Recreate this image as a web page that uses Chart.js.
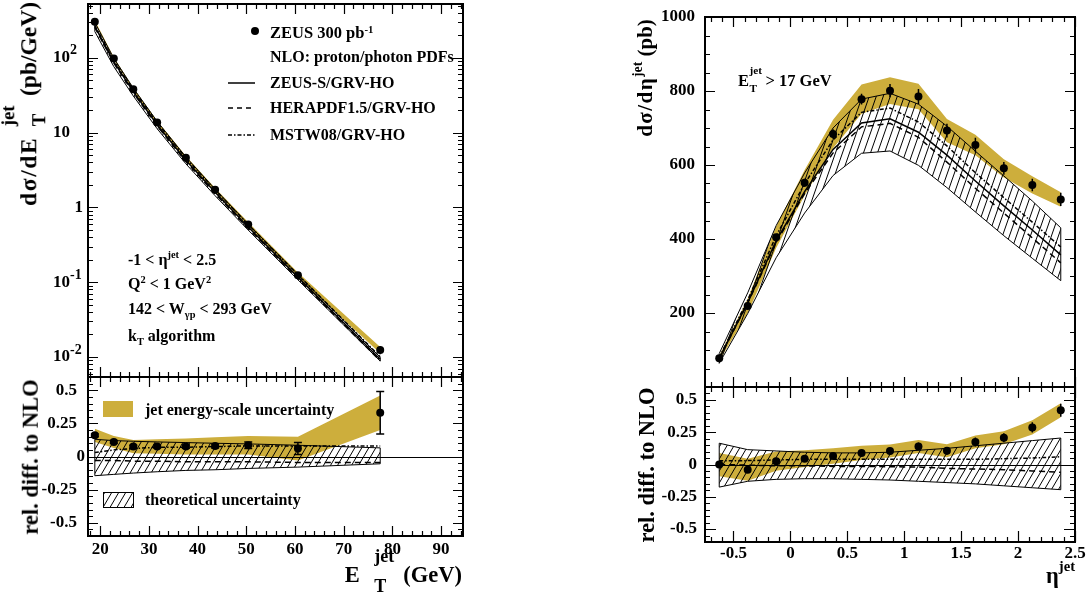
<!DOCTYPE html>
<html lang="en">
<head>
<meta charset="UTF-8">
<title>ZEUS inclusive jet cross sections</title>
<script src="https://cdn.jsdelivr.net/npm/chart.js"></script>
<style>
  body { margin: 0; background: #fff; }
  #page { position: relative; width: 1088px; height: 594px; overflow: hidden;
          font-family: "Liberation Serif", "Times New Roman", serif; font-weight: bold; color: #000; }
  canvas { position: absolute; left: 0; top: 0; }
  .txt { position: absolute; white-space: nowrap; line-height: 1; transform: translateY(-50%); }
  .rot { transform: translate(-50%, -50%) rotate(-90deg); }
  .ss { display: inline-block; position: relative; width: 1.2em; height: 1em; font-size: 0.68em; }
  .ss .up, .ss .dn { position: absolute; left: 0.05em; line-height: 1; }
  .ss .up { bottom: 1.17em; }
  .ss .dn { top: 0.83em; }
  .big { font-size: 0.8em; width: 1.35em; margin-left: 0.75em; }
  .big .up { bottom: 0.95em; }
  .big .dn { top: 0.7em; }
  .wide { letter-spacing: 0.07em; }
  .sp { font-size: 0.65em; position: relative; top: -0.6em; }
  .sb { font-size: 0.65em; position: relative; top: 0.35em; }
</style>
</head>
<body>
<div id="page">
  <canvas id="etTop" width="1088" height="594"></canvas>
  <canvas id="etRat" width="1088" height="594"></canvas>
  <canvas id="etaTop" width="1088" height="594"></canvas>
  <canvas id="etaRat" width="1088" height="594"></canvas>

  <!-- axis titles -->
  <div class="txt rot" style="left:29px;top:104px;font-size:23.5px"><span class="wide">dσ/dE</span><span class="ss big" style="margin-left:0.5em"><span class="up">jet</span><span class="dn">T</span></span> (pb/GeV)</div>
  <div class="txt rot" style="left:31px;top:457px;font-size:22.5px">rel. diff. to NLO</div>
  <div class="txt" style="right:626px;top:575px;font-size:22.5px">E<span class="ss big"><span class="up">jet</span><span class="dn">T</span></span>&nbsp;(GeV)</div>
  <div class="txt rot" style="left:645px;top:78px;font-size:21px"><span class="wide">dσ/dη</span><span class="sp" style="top:-0.75em">jet</span> (pb)</div>
  <div class="txt rot" style="left:647px;top:465px;font-size:22.5px">rel. diff. to NLO</div>
  <div class="txt" style="right:13px;top:576px;font-size:22.5px">η<span class="sp" style="top:-0.8em">jet</span></div>

  <!-- legend, left top -->
  <div class="txt" style="left:270px;top:33px;font-size:16.5px">ZEUS 300 pb<span class="sp" style="top:-0.5em">-1</span></div>
  <div class="txt" style="left:270px;top:57px;font-size:16px">NLO: proton/photon PDFs</div>
  <div class="txt" style="left:270px;top:83px;font-size:16px">ZEUS-S/GRV-HO</div>
  <div class="txt" style="left:270px;top:108px;font-size:16px">HERAPDF1.5/GRV-HO</div>
  <div class="txt" style="left:270px;top:135px;font-size:16px">MSTW08/GRV-HO</div>

  <!-- cuts -->
  <div class="txt" style="left:128px;top:260px;font-size:16px">-1 &lt; η<span class="sp" style="top:-0.7em">jet</span> &lt; 2.5</div>
  <div class="txt" style="left:128px;top:284px;font-size:16px">Q<span class="sp">2</span> &lt; 1 GeV<span class="sp">2</span></div>
  <div class="txt" style="left:128px;top:309px;font-size:16px">142 &lt; W<span class="sb">γp</span> &lt; 293 GeV</div>
  <div class="txt" style="left:128px;top:336px;font-size:16px">k<span class="sb">T</span> algorithm</div>
  <div class="txt" style="left:738px;top:81px;font-size:16.5px">E<span class="ss" style="width:1.1em"><span class="up" style="bottom:0.9em">jet</span><span class="dn" style="top:0.7em">T</span></span> &gt; 17 GeV</div>

  <!-- legend, left ratio -->
  <div class="txt" style="left:145px;top:410px;font-size:16px">jet energy-scale uncertainty</div>
  <div class="txt" style="left:145px;top:500px;font-size:16px">theoretical uncertainty</div>
</div>

<script>
    // ---- E_T^jet distribution (left) ----
    const etBins   = [18.9, 22.8, 26.8, 31.7, 37.6, 43.6, 50.4, 60.6, 77.5];
    const etXsec   = [305, 98, 38, 13.7, 4.6, 1.72, 0.593, 0.124, 0.0124];     // pb/GeV
    const etRatio  = [0.16, 0.11, 0.075, 0.075, 0.075, 0.08, 0.085, 0.06, 0.33]; // (data-NLO)/NLO
    const etStat   = [0.01, 0.01, 0.01, 0.01, 0.012, 0.015, 0.025, 0.045, 0.16];
    const etJes    = [0.05, 0.045, 0.05, 0.055, 0.06, 0.065, 0.07, 0.09, 0.13];
    const etTheoUp = [0.13, 0.12, 0.115, 0.11, 0.105, 0.10, 0.095, 0.085, 0.065];
    const etTheoDn = [-0.145, -0.135, -0.125, -0.115, -0.105, -0.10, -0.09, -0.08, -0.055];
    const etHera   = [-0.03, -0.03, -0.035, -0.035, -0.04, -0.04, -0.04, -0.045, -0.045];
    const etMstw   = [0.03, 0.05, 0.06, 0.07, 0.07, 0.075, 0.08, 0.08, 0.08];

    // ---- eta^jet distribution (right) ----
    const etaBins   = [-0.625, -0.375, -0.125, 0.125, 0.375, 0.625, 0.875, 1.125, 1.375, 1.625, 1.875, 2.125, 2.375];
    const etaXsec   = [77.5, 219, 405, 552, 684, 778, 801, 785, 693, 654, 591, 546, 507];  // pb
    const etaRatio  = [0, -0.04, 0.026, 0.045, 0.065, 0.09, 0.105, 0.14, 0.106, 0.175, 0.207, 0.287, 0.42];
    const etaStat   = [0.02, 0.02, 0.02, 0.02, 0.02, 0.02, 0.025, 0.03, 0.03, 0.035, 0.035, 0.04, 0.05];
    const etaJes    = [0.09, 0.085, 0.075, 0.065, 0.06, 0.055, 0.05, 0.05, 0.05, 0.05, 0.05, 0.055, 0.055];
    const etaTheoUp = [0.165, 0.115, 0.105, 0.095, 0.09, 0.09, 0.095, 0.11, 0.125, 0.145, 0.165, 0.185, 0.205];
    const etaTheoDn = [-0.175, -0.13, -0.115, -0.11, -0.11, -0.115, -0.12, -0.13, -0.14, -0.15, -0.165, -0.18, -0.195];
    const etaHera   = [0, -0.005, -0.01, -0.01, -0.015, -0.015, -0.017, -0.02, -0.03, -0.035, -0.04, -0.05, -0.06];
    const etaMstw   = [0.03, 0.03, 0.035, 0.04, 0.04, 0.04, 0.04, 0.04, 0.04, 0.04, 0.045, 0.05, 0.06];

    // ---- tick labels ----
    const etTickVals    = [20, 30, 40, 50, 60, 70, 80, 90];
    const etTickText    = ['20', '30', '40', '50', '60', '70', '80', '90'];
    const etaTickVals   = [-0.5, 0, 0.5, 1, 1.5, 2, 2.5];
    const etaTickText   = ['-0.5', '0', '0.5', '1', '1.5', '2', '2.5'];
    const ratioTickVals = [-0.5, -0.25, 0, 0.25, 0.5];
    const ratioTickText = ['-0.5', '-0.25', '0', '0.25', '0.5'];
    const xsecTickVals  = [200, 400, 600, 800, 1000];
    const xsecTickText  = ['200', '400', '600', '800', '1000'];
    const logTickVals   = [0.01, 0.1, 1, 10, 100];
    const logTickBase   = ['10', '10', '1', '10', '10'];
    const logTickExp    = ['-2', '-1', '', '', '2'];

    const YELLOW = '#cdae3c';
    const W = 1088, H = 594;
    const FONT = '"Liberation Serif", "Times New Roman", serif';

    function pad(b) { return { left: b[0], top: b[1], right: W - b[2], bottom: H - b[3] }; }

    function hatch(w, h) {
        const c = document.createElement('canvas');
        c.width = w; c.height = h;
        const g = c.getContext('2d');
        g.strokeStyle = '#000';
        g.lineWidth = 1;
        g.beginPath();
        [-w, 0, w].forEach(dx => { g.moveTo(dx, h); g.lineTo(dx + w, 0); });
        g.stroke();
        return g.createPattern(c, 'repeat');
    }

    function linTicks(min, max, step, majorStep) {
        const out = [];
        for (let n = Math.ceil(min / step - 1e-9); n <= Math.floor(max / step + 1e-9); n++) {
            const v = +(n * step).toFixed(6);
            const r = v / majorStep;
            out.push({ v, major: Math.abs(r - Math.round(r)) < 1e-6 });
        }
        return out;
    }

    function logTicks(min, max) {
        const out = [];
        for (let e = Math.floor(Math.log10(min)); e <= Math.ceil(Math.log10(max)); e++) {
            for (let m = 1; m <= 9; m++) {
                const v = m * Math.pow(10, e);
                if (v >= min && v <= max) out.push({ v, major: m === 1 });
            }
        }
        return out;
    }

    const pts = (xs, ys) => xs.map((x, i) => ({ x, y: ys[i] }));

    // two datasets: upper one filled down to the lower one
    function band(xs, hi, lo, fill, border, order) {
        const bw = border ? 1 : 0;
        return [
            { data: pts(xs, hi), fill: '+1', backgroundColor: fill, borderColor: '#000', borderWidth: bw,
              pointRadius: 0, order: order, closeWith: border ? 1 : undefined },
            { data: pts(xs, lo), fill: false, borderColor: '#000', borderWidth: bw, pointRadius: 0, order: order - 1 }
        ];
    }

    function curve(xs, ys, dash, order) {
        return { data: pts(xs, ys), fill: false, borderColor: '#000', borderWidth: 1.5, borderDash: dash,
                 pointRadius: 0, order: order };
    }

    function points(xs, ys, err, caps) {
        return { data: pts(xs, ys), showLine: false, pointRadius: 4, pointBackgroundColor: '#000',
                 pointBorderWidth: 0, yErr: err, caps: caps, order: 0 };
    }

    // frame, ticks on all four sides, labels, error bars and legend keys
    const framePlugin = {
        id: 'frame',
        afterDatasetsDraw(chart, args, o) {
            const ctx = chart.ctx, a = chart.chartArea, xs = chart.scales.x, ys = chart.scales.y;
            ctx.save();
            chart.data.datasets.forEach((ds, i) => {
                const meta = chart.getDatasetMeta(i);
                if (ds.closeWith !== undefined) {
                    const lo = chart.getDatasetMeta(i + ds.closeWith);
                    ctx.strokeStyle = '#000'; ctx.lineWidth = 1;
                    ctx.beginPath();
                    [0, meta.data.length - 1].forEach(j => {
                        ctx.moveTo(meta.data[j].x, meta.data[j].y);
                        ctx.lineTo(lo.data[j].x, lo.data[j].y);
                    });
                    ctx.stroke();
                }
                if (ds.yErr) {
                    ctx.strokeStyle = '#000'; ctx.lineWidth = 1.5;
                    ctx.beginPath();
                    ds.data.forEach((p, j) => {
                        const px = meta.data[j].x;
                        const y1 = ys.getPixelForValue(p.y - ds.yErr[j]);
                        const y2 = ys.getPixelForValue(p.y + ds.yErr[j]);
                        ctx.moveTo(px, y1); ctx.lineTo(px, y2);
                        if (ds.caps) {
                            ctx.moveTo(px - 4, y1); ctx.lineTo(px + 4, y1);
                            ctx.moveTo(px - 4, y2); ctx.lineTo(px + 4, y2);
                        }
                    });
                    ctx.stroke();
                }
            });

            if (o.zeroLine) {
                const y0 = Math.round(ys.getPixelForValue(0)) + 0.5;
                ctx.strokeStyle = '#000'; ctx.lineWidth = 1.2;
                ctx.beginPath(); ctx.moveTo(a.left, y0); ctx.lineTo(a.right, y0); ctx.stroke();
            }

            (o.swatches || []).forEach(s => {
                ctx.fillStyle = s.fill;
                ctx.fillRect(s.x, s.y, s.w, s.h);
                if (s.stroke) {
                    ctx.strokeStyle = '#000'; ctx.lineWidth = 1;
                    ctx.strokeRect(s.x + 0.5, s.y + 0.5, s.w, s.h);
                }
            });
            (o.keys || []).forEach(k => {
                ctx.fillStyle = '#000'; ctx.strokeStyle = '#000';
                if (k.point) {
                    ctx.beginPath(); ctx.arc(k.x, k.y, 4, 0, Math.PI * 2); ctx.fill();
                } else {
                    ctx.lineWidth = 1.5;
                    ctx.setLineDash(k.dash);
                    ctx.beginPath(); ctx.moveTo(k.x, k.y); ctx.lineTo(k.x + k.len, k.y); ctx.stroke();
                    ctx.setLineDash([]);
                }
            });

            // ticks
            ctx.strokeStyle = '#000'; ctx.lineWidth = 1.2;
            ctx.beginPath();
            o.xTicks.forEach(t => {
                const px = Math.round(xs.getPixelForValue(t.v)) + 0.5;
                const len = t.major ? o.major : o.minor;
                ctx.moveTo(px, a.bottom); ctx.lineTo(px, a.bottom - len);
                ctx.moveTo(px, a.top); ctx.lineTo(px, a.top + len);
            });
            o.yTicks.forEach(t => {
                const py = Math.round(ys.getPixelForValue(t.v)) + 0.5;
                const len = t.major ? o.major : o.minor;
                ctx.moveTo(a.left, py); ctx.lineTo(a.left + len, py);
                ctx.moveTo(a.right, py); ctx.lineTo(a.right - len, py);
            });
            ctx.stroke();
            ctx.lineWidth = 2;
            ctx.strokeRect(a.left, a.top, a.right - a.left, a.bottom - a.top);

            // labels
            ctx.fillStyle = '#000';
            ctx.font = 'bold 17px ' + FONT;
            ctx.textBaseline = 'middle';
            if (o.xVals) {
                ctx.textAlign = 'center';
                o.xVals.forEach((v, i) => ctx.fillText(o.xText[i], xs.getPixelForValue(v), o.xLabelY));
            }
            if (o.yVals) {
                o.yVals.forEach((v, i) => {
                    const py = ys.getPixelForValue(v);
                    if (o.yExp) {
                        if (o.yText[i] === '1') {
                            ctx.textAlign = 'right';
                            ctx.fillText('1', a.left - 5, py);
                        } else {
                            ctx.textAlign = 'left';
                            ctx.fillText(o.yText[i], a.left - 35, py);
                            if (o.yExp[i]) {
                                ctx.font = 'bold 14px ' + FONT;
                                ctx.fillText(o.yExp[i], a.left - 18, py - 7);
                                ctx.font = 'bold 17px ' + FONT;
                            }
                        }
                    } else {
                        ctx.textAlign = 'right';
                        // the zero label sits closer to the axis in the original
                        const gap = (o.zeroGap !== undefined && v === 0) ? o.zeroGap : o.yGap;
                        ctx.fillText(o.yText[i], a.left - gap, py);
                    }
                });
            }
            ctx.restore();
        }
    };

    function panel(id, box, xScale, yScale, datasets, frame) {
        return new Chart(document.getElementById(id), {
            type: 'line',
            data: { datasets: datasets },
            options: {
                responsive: false,
                animation: false,
                events: [],
                layout: { padding: pad(box) },
                elements: { line: { tension: 0 } },
                scales: { x: Object.assign({ display: false }, xScale), y: Object.assign({ display: false }, yScale) },
                plugins: { legend: { display: false }, tooltip: { enabled: false }, frame: frame }
            },
            plugins: [framePlugin]
        });
    }

    const hatchRatio = hatch(7, 12);
    const hatchTop = hatch(7, 20);

    // ---------- left: E_T^jet ----------
    const etNlo = etXsec.map((v, i) => v / (1 + etRatio[i]));
    const etRel = r => etNlo.map((v, i) => v * (1 + r[i]));
    const etX = { type: 'linear', min: 17.5, max: 94.5 };

    panel('etTop', [88, 3, 463, 377], etX, { type: 'logarithmic', min: 0.0054, max: 525 }, [
        ...band(etBins, etRel(etRatio.map((r, i) => r + etJes[i])), etRel(etRatio.map((r, i) => r - etJes[i])), YELLOW, false, 10),
        ...band(etBins, etRel(etTheoUp), etRel(etTheoDn), hatchTop, true, 8),
        curve(etBins, etRel(etMstw), [4, 2, 1.5, 2], 5),
        curve(etBins, etRel(etHera), [6, 4], 4),
        curve(etBins, etNlo, [], 3),
        points(etBins, etXsec, etNlo.map((v, i) => v * etStat[i]), false)
    ], {
        xTicks: linTicks(17.5, 94.5, 2, 10), yTicks: logTicks(0.0054, 525), major: 10, minor: 5,
        yVals: logTickVals, yText: logTickBase, yExp: logTickExp,
        keys: [
            { point: true, x: 255, y: 31 },
            { x: 228, y: 83, len: 27, dash: [] },
            { x: 228, y: 108, len: 27, dash: [5, 4] },
            { x: 228, y: 135, len: 27, dash: [4, 2, 1.5, 2] }
        ]
    });

    panel('etRat', [88, 377, 463, 536], etX, { type: 'linear', min: -0.6, max: 0.6 }, [
        ...band(etBins, etRatio.map((r, i) => r + etJes[i]), etRatio.map((r, i) => r - etJes[i]), YELLOW, false, 10),
        ...band(etBins, etTheoUp, etTheoDn, hatchRatio, true, 8),
        curve(etBins, etMstw, [4, 2, 1.5, 2], 5),
        curve(etBins, etHera, [6, 4], 4),
        points(etBins, etRatio, etStat, true)
    ], {
        xTicks: linTicks(17.5, 94.5, 2, 10), yTicks: linTicks(-0.6, 0.6, 0.05, 0.25), major: 10, minor: 5,
        xVals: etTickVals, xText: etTickText, xLabelY: 550,
        yVals: ratioTickVals, yText: ratioTickText, yGap: 11, zeroGap: 3,
        zeroLine: true,
        swatches: [
            { x: 103, y: 401, w: 30, h: 16, fill: YELLOW },
            { x: 103, y: 492, w: 30, h: 15, fill: hatchRatio, stroke: true }
        ]
    });

    // ---------- right: eta^jet ----------
    const etaNlo = etaXsec.map((v, i) => v / (1 + etaRatio[i]));
    const etaRel = r => etaNlo.map((v, i) => v * (1 + r[i]));
    const etaX = { type: 'linear', min: -0.75, max: 2.5 };

    panel('etaTop', [705, 17, 1075, 387], etaX, { type: 'linear', min: 0, max: 1000 }, [
        ...band(etaBins, etaRel(etaRatio.map((r, i) => r + etaJes[i])), etaRel(etaRatio.map((r, i) => r - etaJes[i])), YELLOW, false, 10),
        ...band(etaBins, etaRel(etaTheoUp), etaRel(etaTheoDn), hatchTop, true, 8),
        curve(etaBins, etaRel(etaMstw), [4, 2, 1.5, 2], 5),
        curve(etaBins, etaRel(etaHera), [6, 4], 4),
        curve(etaBins, etaNlo, [], 3),
        points(etaBins, etaXsec, etaNlo.map((v, i) => v * etaStat[i]), false)
    ], {
        xTicks: linTicks(-0.75, 2.5, 0.1, 0.5), yTicks: linTicks(0, 1000, 50, 200), major: 10, minor: 5,
        yVals: xsecTickVals, yText: xsecTickText, yGap: 10
    });

    panel('etaRat', [705, 387, 1075, 542], etaX, { type: 'linear', min: -0.6, max: 0.6 }, [
        ...band(etaBins, etaRatio.map((r, i) => r + etaJes[i]), etaRatio.map((r, i) => r - etaJes[i]), YELLOW, false, 10),
        ...band(etaBins, etaTheoUp, etaTheoDn, hatchRatio, true, 8),
        curve(etaBins, etaMstw, [4, 2, 1.5, 2], 5),
        curve(etaBins, etaHera, [6, 4], 4),
        points(etaBins, etaRatio, etaStat, false)
    ], {
        xTicks: linTicks(-0.75, 2.5, 0.1, 0.5), yTicks: linTicks(-0.6, 0.6, 0.05, 0.25), major: 11, minor: 5,
        xVals: etaTickVals, xText: etaTickText, xLabelY: 554,
        yVals: ratioTickVals, yText: ratioTickText, yGap: 8,
        zeroLine: true
    });
</script>
</body>
</html>
